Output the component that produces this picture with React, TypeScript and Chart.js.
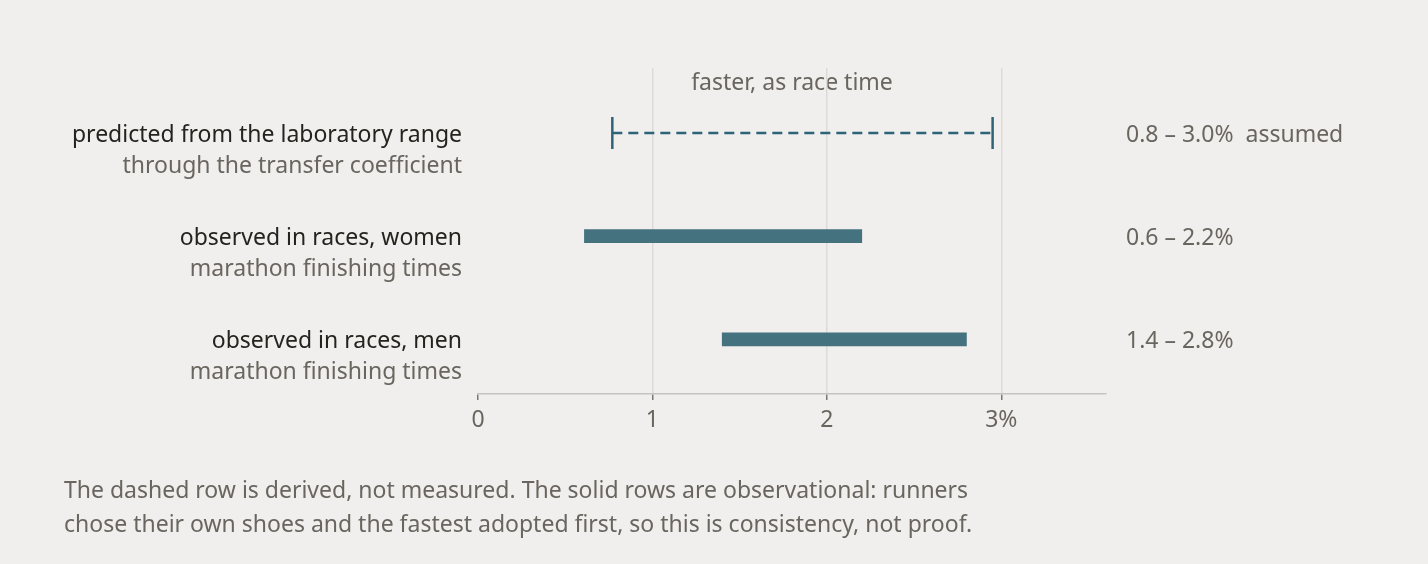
import React, { useEffect, useRef } from 'react';
import { Chart, registerables } from 'chart.js';

Chart.register(...registerables);

const ROW_TITLES = ['predicted from the laboratory range', 'observed in races, women', 'observed in races, men'];
const ROW_SUBTITLES = ['through the transfer coefficient', 'marathon finishing times', 'marathon finishing times'];
const RANGE_LOW = [0.77, 0.61, 1.4];
const RANGE_HIGH = [2.95, 2.2, 2.8];
const RANGE_LABELS = ['0.8 – 3.0%  assumed', '0.6 – 2.2%', '1.4 – 2.8%'];
const DERIVED = [true, false, false];
const X_TICKS = [0, 1, 2, 3];
const AXIS_TITLE = 'faster, as race time';
const FOOTNOTE = [
  'The dashed row is derived, not measured. The solid rows are observational: runners',
  'chose their own shoes and the fastest adopted first, so this is consistency, not proof.',
];

const FONT = '"Noto Sans", sans-serif';
const SIZE = 23;
const DARK = '#26231f';
const GREY = '#6a655f';
const BAR = '#44727f';
const DASH = '#2f6378';

const textPlugin = {
  id: 'texts',
  beforeDraw(chart: any) {
    const { ctx, chartArea } = chart;
    ctx.save();
    ctx.fillStyle = GREY;
    ctx.font = `${SIZE}px ${FONT}`;
    ctx.textAlign = 'center';
    ctx.textBaseline = 'middle';
    ctx.fillText(AXIS_TITLE, (chartArea.left + chartArea.right) / 2, 83);
    ctx.textAlign = 'left';
    FOOTNOTE.forEach((line, i) => ctx.fillText(line, 64, 491 + i * 34));
    ctx.restore();
  },
  afterDatasetsDraw(chart: any) {
    const { ctx } = chart;
    const y = chart.scales.y;
    ctx.save();
    ctx.textBaseline = 'middle';
    ctx.font = `${SIZE}px ${FONT}`;
    ROW_TITLES.forEach((t, i) => {
      const py = y.getPixelForValue(i) + 2;
      ctx.textAlign = 'right';
      ctx.fillStyle = DARK;
      ctx.fillText(t, 462, py);
      ctx.fillStyle = GREY;
      ctx.fillText(ROW_SUBTITLES[i], 462, py + 31);
      ctx.textAlign = 'left';
      ctx.fillText(RANGE_LABELS[i], 1126, py);
    });
    ctx.restore();
  },
};

export default function App() {
  const canvasRef = useRef<HTMLCanvasElement | null>(null);

  useEffect(() => {
    const ctx = canvasRef.current?.getContext('2d');
    if (!ctx) return;
    Chart.defaults.font.family = FONT;

    const solid = ROW_TITLES.map((_, i) => i).filter(i => !DERIVED[i]);
    const derived = ROW_TITLES.map((_, i) => i).filter(i => DERIVED[i]);

    const chart = new Chart(ctx, {
      type: 'bar',
      data: {
        datasets: [
          {
            type: 'bar',
            data: solid.map(i => ({ y: i, x: [RANGE_LOW[i], RANGE_HIGH[i]] })) as any,
            backgroundColor: BAR,
            borderWidth: 0,
            borderSkipped: false,
            barThickness: 13,
          },
          ...derived.map(i => ({
            type: 'line' as const,
            data: [
              { x: RANGE_LOW[i], y: i },
              { x: RANGE_HIGH[i], y: i },
            ],
            borderColor: DASH,
            borderWidth: 2.5,
            borderDash: [10, 6],
            pointStyle: 'line' as const,
            rotation: 90,
            pointRadius: 16,
            pointBorderWidth: 2.5,
            pointBorderColor: DASH,
          })),
        ] as any,
      },
      options: {
        indexAxis: 'y',
        responsive: true,
        maintainAspectRatio: false,
        animation: false,
        events: [],
        layout: { padding: { left: 478, right: 322, top: 68, bottom: 120 } },
        plugins: { legend: { display: false }, tooltip: { enabled: false }, title: { display: false } },
        scales: {
          x: {
            type: 'linear',
            min: 0,
            max: 3.6,
            afterFit: (s: any) => { s.height = 50; },
            afterBuildTicks: (s: any) => { s.ticks = X_TICKS.map(v => ({ value: v })); },
            border: { color: '#c4c3c0', width: 1.5 },
            grid: {
              color: (c: any) => (c.tick && c.tick.value === 0 ? 'rgba(0,0,0,0)' : '#dddbd8'),
              lineWidth: 1.5,
              tickColor: '#7a7570',
              tickLength: 6,
            },
            ticks: {
              color: GREY,
              font: { size: SIZE },
              padding: 7,
              callback: (v: any) => (v === 3 ? '3%' : String(v)),
            },
          },
          y: {
            type: 'linear',
            min: -0.63,
            max: 2.53,
            reverse: true,
            offset: false,
            display: false,
          },
        },
      },
      plugins: [textPlugin],
    });
    return () => chart.destroy();
  }, []);

  return (
    <div style={{ position: 'fixed', left: 0, top: 0, width: 1428, height: 564, background: '#f0efed' }}>
      <canvas ref={canvasRef} />
    </div>
  );
}
